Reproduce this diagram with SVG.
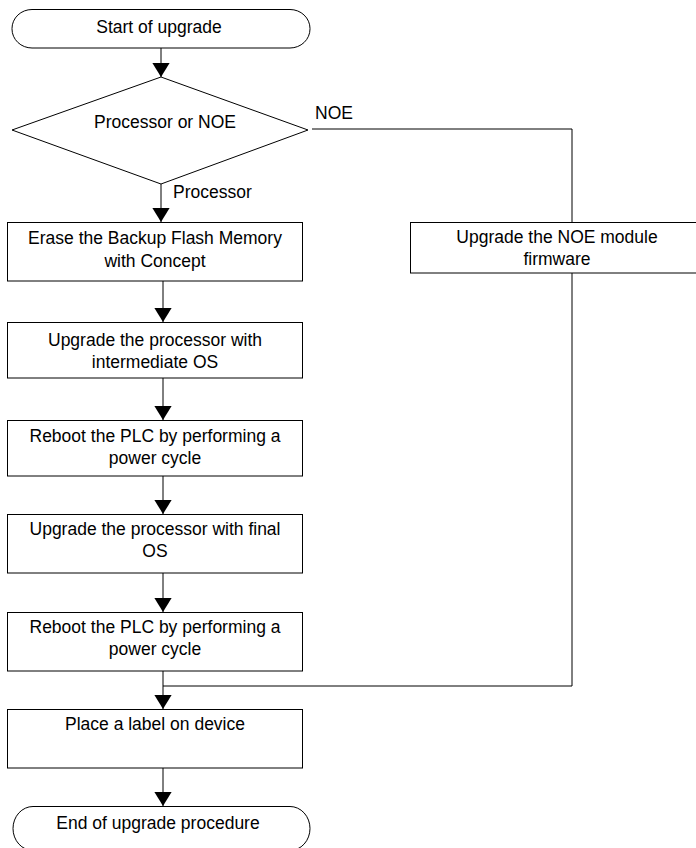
<svg xmlns="http://www.w3.org/2000/svg" width="696" height="848" viewBox="0 0 696 848">
<style>
.shape{fill:#fff;stroke:#000;stroke-width:1}
.line{fill:none;stroke:#000;stroke-width:1}
text{font-family:"Liberation Sans",Arial,sans-serif;font-size:17.5px;fill:#000}
.c{text-anchor:middle}
</style>
<defs>
<marker id="ah" markerUnits="userSpaceOnUse" markerWidth="14" markerHeight="18" refX="13" refY="8" orient="auto" viewBox="0 0 13 16">
<path d="M0,0 L13,8 L0,16 Z" fill="#000"/>
</marker>
</defs>
<rect width="696" height="848" fill="#fff"/>
<g id="connectors">
<line class="line" x1="161" y1="48" x2="161" y2="77" marker-end="url(#ah)"/>
<line class="line" x1="161" y1="184" x2="161" y2="222" marker-end="url(#ah)"/>
<line class="line" x1="163" y1="281" x2="163" y2="322" marker-end="url(#ah)"/>
<line class="line" x1="163" y1="378" x2="163" y2="420" marker-end="url(#ah)"/>
<line class="line" x1="163" y1="476" x2="163" y2="514" marker-end="url(#ah)"/>
<line class="line" x1="163" y1="573" x2="163" y2="612" marker-end="url(#ah)"/>
<line class="line" x1="163" y1="671" x2="163" y2="709" marker-end="url(#ah)"/>
<line class="line" x1="163" y1="768" x2="163" y2="806" marker-end="url(#ah)"/>
<polyline class="line" points="312,129 572,129 572,222"/>
<polyline class="line" points="572,273 572,686 163,686"/>
<text x="315" y="119">NOE</text>
<text x="173" y="198">Processor</text>
</g>
<g id="start">
<rect class="shape" x="12" y="9.5" width="298" height="38.5" rx="20" ry="19"/>
<text class="c" x="159" y="33">Start of upgrade</text>
</g>
<g id="decision">
<polygon class="shape" points="161,77 308,130 161,184 12,130"/>
<text class="c" x="165" y="128">Processor or NOE</text>
</g>
<g id="erase">
<rect class="shape" x="7.5" y="222.5" width="295" height="58.5"/>
<text class="c" x="155" y="244">Erase the Backup Flash Memory</text>
<text class="c" x="155" y="267">with Concept</text>
</g>
<g id="noe">
<rect class="shape" x="410.5" y="222.5" width="292" height="50.5"/>
<text class="c" x="557" y="243">Upgrade the NOE module</text>
<text class="c" x="557" y="265">firmware</text>
</g>
<g id="intermediate">
<rect class="shape" x="7.5" y="322.5" width="295" height="55.5"/>
<text class="c" x="155" y="346">Upgrade the processor with</text>
<text class="c" x="155" y="368">intermediate OS</text>
</g>
<g id="reboot1">
<rect class="shape" x="7.5" y="420.5" width="295" height="55.5"/>
<text class="c" x="155" y="442">Reboot the PLC by performing a</text>
<text class="c" x="155" y="464">power cycle</text>
</g>
<g id="final">
<rect class="shape" x="7.5" y="514.5" width="295" height="58.5"/>
<text class="c" x="155" y="535">Upgrade the processor with final</text>
<text class="c" x="155" y="557">OS</text>
</g>
<g id="reboot2">
<rect class="shape" x="7.5" y="612.5" width="295" height="58.5"/>
<text class="c" x="155" y="633">Reboot the PLC by performing a</text>
<text class="c" x="155" y="655">power cycle</text>
</g>
<g id="label">
<rect class="shape" x="7.5" y="709.5" width="295" height="58.5"/>
<text class="c" x="155" y="730">Place a label on device</text>
</g>
<g id="end">
<rect class="shape" x="13" y="806.5" width="297" height="44" rx="20" ry="22"/>
<text class="c" x="158" y="829">End of upgrade procedure</text>
</g>
</svg>
